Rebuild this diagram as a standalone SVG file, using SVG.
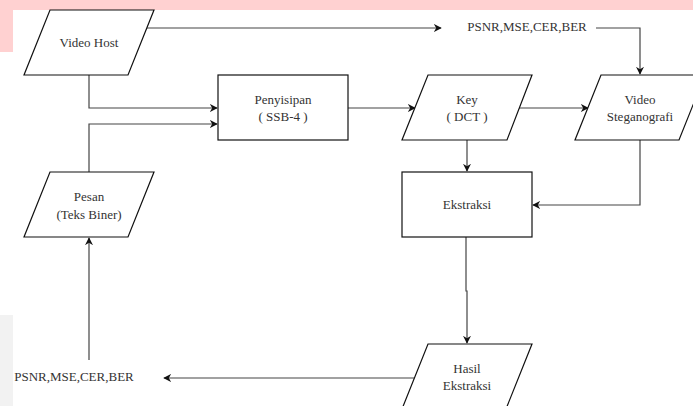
<svg xmlns="http://www.w3.org/2000/svg" width="693" height="406" viewBox="0 0 693 406">
<style>
.shape{fill:#fff;stroke:#111;stroke-width:1.2}
.conn{fill:none;stroke:#444;stroke-width:1.2}
.t{font-family:'Liberation Serif','Times New Roman',serif;font-size:13px;fill:#333;text-anchor:middle}
</style>
<defs>
<marker id="arr" viewBox="0 0 10 10" refX="9" refY="5" markerWidth="8" markerHeight="8" markerUnits="userSpaceOnUse" orient="auto">
<path d="M0,0 L10,5 L0,10 L3,5 Z" fill="#111"/>
</marker>
</defs>
<rect x="0" y="0" width="693" height="406" fill="#fff"/>
<rect x="0" y="0" width="693" height="10" fill="#ffd1d1"/>
<rect x="0" y="0" width="13" height="52" fill="#ffd1d1"/>
<rect x="0" y="315" width="13" height="91" fill="#f2f2f2"/>

<g id="connectors">
<path class="conn" d="M89,75 V108 H217" marker-end="url(#arr)"/>
<path class="conn" d="M89,172 V124 H217" marker-end="url(#arr)"/>
<path class="conn" d="M147,28 H441" marker-end="url(#arr)"/>
<path class="conn" d="M596,28 H640 V74" marker-end="url(#arr)"/>
<path class="conn" d="M348,108 H415" marker-end="url(#arr)"/>
<path class="conn" d="M519,108 H588" marker-end="url(#arr)"/>
<path class="conn" d="M467,140 V171" marker-end="url(#arr)"/>
<path class="conn" d="M640,140 V205 H533" marker-end="url(#arr)"/>
<path class="conn" d="M466,237 V291 H467 V343" marker-end="url(#arr)"/>
<path class="conn" d="M414,378 H164" marker-end="url(#arr)"/>
<path class="conn" d="M89,360 V238" marker-end="url(#arr)"/>
</g>

<g id="video-host">
<polygon class="shape" points="50,10 154,10 128,75 24,75"/>
<text class="t" x="89" y="47">Video Host</text>
</g>
<g id="penyisipan">
<rect class="shape" x="218" y="75" width="130" height="65"/>
<text class="t" x="283" y="104">Penyisipan</text>
<text class="t" x="283" y="121">( SSB-4 )</text>
</g>
<g id="pesan">
<polygon class="shape" points="50,172 154,172 128,237 24,237"/>
<text class="t" x="89" y="201">Pesan</text>
<text class="t" x="89" y="219">(Teks Biner)</text>
</g>
<g id="psnr-top">
<text class="t" x="527" y="31">PSNR,MSE,CER,BER</text>
</g>
<g id="key">
<polygon class="shape" points="428,75 532,75 507,140 402,140"/>
<text class="t" x="467" y="104">Key</text>
<text class="t" x="467" y="121">( DCT )</text>
</g>
<g id="video-steganografi">
<polygon class="shape" points="601,75 705,75 679,140 575,140"/>
<text class="t" x="640" y="104">Video</text>
<text class="t" x="640" y="121">Steganografi</text>
</g>
<g id="ekstraksi">
<rect class="shape" x="402" y="172" width="130" height="65"/>
<text class="t" x="467" y="209">Ekstraksi</text>
</g>
<g id="hasil-ekstraksi">
<polygon class="shape" points="428,344 532,344 506,409 402,409"/>
<text class="t" x="467" y="373">Hasil</text>
<text class="t" x="467" y="390">Ekstraksi</text>
</g>
<g id="psnr-bottom">
<text class="t" x="74" y="381">PSNR,MSE,CER,BER</text>
</g>
</svg>
